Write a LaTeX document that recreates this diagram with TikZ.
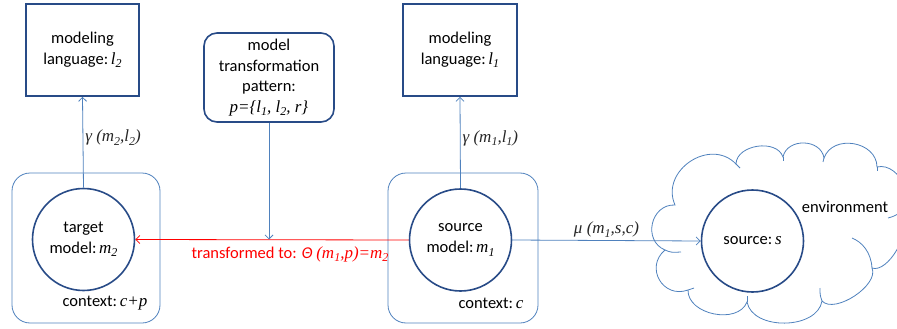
\documentclass[tikz,border=0pt]{standalone}
\usepackage{fontspec}
\setmainfont{Carlito}
\newfontfamily\mfont{Liberation Serif}
\usetikzlibrary{arrows.meta,calc}
\definecolor{dk}{RGB}{40,75,135}
\definecolor{lt}{RGB}{79,129,189}
\definecolor{rd}{RGB}{255,0,0}
\newcommand\mi[1]{{\mfont\itshape\fontsize{17}{20}\selectfont #1}}
\newcommand\sbs[1]{\raisebox{-0.45ex}{\fontsize{12}{12}\selectfont\mfont\itshape #1}}
\tikzset{
  thickbox/.style={draw=dk, line width=1.6pt, align=center, inner sep=0pt},
  ctxbox/.style={draw=lt, line width=0.8pt, rounded corners=18pt, inner sep=0pt},
  modelcirc/.style={draw=dk, line width=1.6pt, circle, minimum size=102pt, align=center, inner sep=0pt},
  arr/.style={-{Straight Barb[length=4pt,width=8pt]}, line width=0.8pt},
  lbl/.style={inner sep=0pt, font=\fontsize{16.5}{18}\selectfont},
  cloudline/.style={draw=lt, line width=0.8pt}
}
\begin{document}
\begin{tikzpicture}[x=1pt,y=-1pt,font=\fontsize{16.5}{20.5}\selectfont]
\useasboundingbox (0,0) rectangle (897,329);
% cloud cusp points
\coordinate (c1) at (665,250);
\coordinate (c2) at (675,205);
\coordinate (c3) at (736,164);
\coordinate (c4) at (783,157);
\coordinate (c5) at (824,158);
\coordinate (c6) at (877,167);
\coordinate (c7) at (900,220);
\coordinate (c8) at (872,268);
\coordinate (c9) at (822,301);
\coordinate (c10) at (747,302);
\coordinate (c11) at (688,290);
\draw[cloudline] (c1)
  .. controls ($(c1)!0.53!80:(c2)$) and ($(c2)!0.53!-80:(c1)$) .. (c2)
  .. controls ($(c2)!0.51!80:(c3)$) and ($(c3)!0.51!-80:(c2)$) .. (c3)
  .. controls ($(c3)!0.41!80:(c4)$) and ($(c4)!0.41!-80:(c3)$) .. (c4)
  .. controls ($(c4)!0.48!80:(c5)$) and ($(c5)!0.48!-80:(c4)$) .. (c5)
  .. controls ($(c5)!0.48!80:(c6)$) and ($(c6)!0.48!-80:(c5)$) .. (c6)
  .. controls ($(c6)!0.42!80:(c7)$) and ($(c7)!0.42!-80:(c6)$) .. (c7)
  .. controls ($(c7)!0.3!80:(c8)$) and ($(c8)!0.3!-80:(c7)$) .. (c8)
  .. controls ($(c8)!0.31!80:(c9)$) and ($(c9)!0.31!-80:(c8)$) .. (c9)
  .. controls ($(c9)!0.39!80:(c10)$) and ($(c10)!0.39!-80:(c9)$) .. (c10)
  .. controls ($(c10)!0.41!80:(c11)$) and ($(c11)!0.41!-80:(c10)$) .. (c11)
  .. controls ($(c11)!0.58!80:(c1)$) and ($(c1)!0.58!-80:(c11)$) .. (c1) -- cycle;
% cloud interior hooks
\draw[cloudline] (c1) .. controls (671,252.5) .. (681,252);
\draw[cloudline] (c11) -- (694,288);
\draw[cloudline] (c10) -- (747,296);
\draw[cloudline] (c9) .. controls (820,295) .. (820,288);
\draw[cloudline] (c8) .. controls (871,252) and (862,242) .. (852,238);
\draw[cloudline] (888,218) .. controls (892,217) .. (898,214);
\draw[cloudline] (c6) -- (877,171);
\draw[cloudline] (c5) -- (823,162);
\draw[cloudline] (c4) -- (783,161);
\draw[cloudline] (c3) -- (740,168);
% top boxes
\node[thickbox, minimum width=113pt, minimum height=92pt] (lang2) at (82.5,50) {modeling\\language:\,\mi{l}\sbs{2}};
\node[thickbox, minimum width=114pt, minimum height=92pt] (lang1) at (460,50) {modeling\\language:\,\mi{l}\sbs{1}};
\node[thickbox, rounded corners=13pt, minimum width=130pt, minimum height=89pt] (pat) at (269,77.5) {model\\transformation\\pattern:\\\mi{p=\{l}\sbs{1}\mi{, l}\sbs{2}\mi{, r\}}};
% context boxes
\node[ctxbox, minimum width=148pt, minimum height=150pt] (ctx2) at (86,248) {};
\node[ctxbox, minimum width=150pt, minimum height=150pt] (ctx1) at (463,248) {};
\node[lbl] (ctx2l) at (105,303) {context:\,\mi{c+p}};
\node[lbl] (ctx1l) at (491,303) {context:\,\mi{c}};
% circles
\node[modelcirc] (tgt) at (83.5,239.5) {target\\model:\,\mi{m}\sbs{2}};
\node[modelcirc] (src) at (460.5,240) {source\\model:\,\mi{m}\sbs{1}};
\node[modelcirc] (s) at (752.5,241) {source:\,\mi{s}};
\node[lbl] (envl) at (845,207) {environment};
% connectors
\draw[arr, lt] (tgt.north) -- (lang2.south) node[pos=0.55, right=2pt, lbl, text=black!85] {\mi{γ (m}\sbs{2}\mi{,l}\sbs{2}\mi{)}};
\draw[arr, lt] (src.north) -- (lang1.south) node[pos=0.55, right=2pt, lbl, text=black!85] {\mi{γ (m}\sbs{1}\mi{,l}\sbs{1}\mi{)}};
\draw[arr, rd] (src.west) -- (tgt.east);
\coordinate (hit) at (pat.south |- tgt.east);
\draw[arr, lt] (pat.south) -- (hit);
\node[lbl, text=rd] (tlabel) at (290,254) {transformed to: \textit{Θ} \mi{(m}\sbs{1}\mi{,p)=m}\sbs{2}};
\draw[arr, lt] (src.east) -- (s.west) node[midway, above=3pt, lbl, text=black!85] {\mi{μ (m}\sbs{1}\mi{,s,c)}};
\end{tikzpicture}
\end{document}
